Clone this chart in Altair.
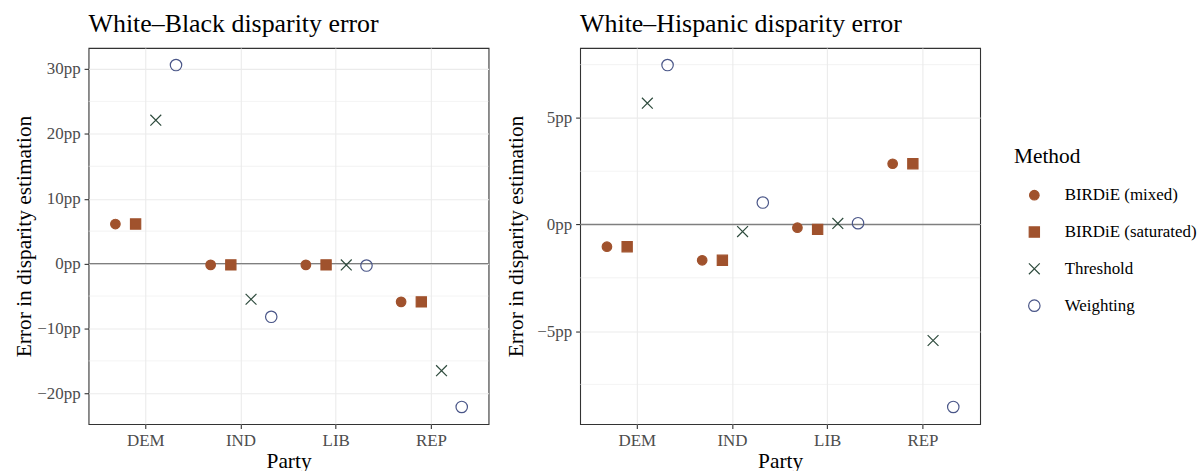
import altair as alt
import pandas as pd

parties = ["DEM", "IND", "LIB", "REP"]
methods = ["BIRDiE (mixed)", "BIRDiE (saturated)", "Threshold", "Weighting"]

# White-Black disparity error (pp)
wb_mixed = [6.1, -0.2, -0.2, -5.9]
wb_saturated = [6.1, -0.2, -0.2, -5.9]
wb_threshold = [22.1, -5.5, -0.2, -16.5]
wb_weighting = [30.6, -8.2, -0.3, -22.1]

# White-Hispanic disparity error (pp)
wh_mixed = [-1.04, -1.68, -0.15, 2.85]
wh_saturated = [-1.04, -1.68, -0.23, 2.85]
wh_threshold = [5.69, -0.33, 0.05, -5.44]
wh_weighting = [7.48, 1.03, 0.06, -8.56]

wb_ticks = [-20, -10, 0, 10, 20, 30]
wb_minor = [-15, -5, 5, 15, 25]
wh_ticks = [-5, 0, 5]
wh_minor = [-7.5, -2.5, 2.5, 7.5]

method_strokes = ["#A0522D", "#A0522D", "#2E4B3D", "#4A5688"]
method_fills = ["#A0522D", "#A0522D", "transparent", "transparent"]
method_shapes = ["circle", "square", "M-1,-1L1,1M-1,1L1,-1", "circle"]
method_sizes = [92, 132, 150, 87]

FONT = "Liberation Serif"
W, H = 402, 378


def long_df(series):
    rows = []
    for m, vals in zip(methods, series):
        for p, v in zip(parties, vals):
            rows.append({"Party": p, "Method": m, "Error": v})
    return pd.DataFrame(rows)


def panel(series, title, ticks, minor):
    df = long_df(series)
    lo, hi = df["Error"].min(), df["Error"].max()
    ex = 0.05 * (hi - lo)
    yscale = alt.Scale(domain=[lo - ex, hi + ex], nice=False, zero=False)
    yaxis = alt.Axis(values=ticks, labelExpr="format(datum.value, 'd') + 'pp'",
                     title="Error in disparity estimation", titleAngle=270,
                     titleX=-64, titleY=H / 2, titleAlign="center",
                     titleBaseline="middle")
    y = alt.Y("Error:Q", scale=yscale, axis=yaxis)

    minor_rules = alt.Chart(pd.DataFrame({"Error": minor})).mark_rule(
        color="#EBEBEB", strokeWidth=0.6).encode(y=y)
    zero_rule = alt.Chart(pd.DataFrame({"Error": [0]})).mark_rule(
        color="#7F7F7F", strokeWidth=1.4).encode(y=y)

    points = alt.Chart(df).mark_point(opacity=1, strokeWidth=1.2).encode(
        x=alt.X("Party:N",
                scale=alt.Scale(domain=parties, paddingInner=0, paddingOuter=0.1),
                axis=alt.Axis(bandPosition=0.5, labelAngle=0, grid=True,
                              title="Party")),
        xOffset=alt.XOffset("Method:N",
                            scale=alt.Scale(domain=methods, paddingInner=0,
                                            paddingOuter=0.857)),
        y=y,
        shape=alt.Shape("Method:N", scale=alt.Scale(domain=methods, range=method_shapes),
                        title="Method"),
        fill=alt.Fill("Method:N", scale=alt.Scale(domain=methods, range=method_fills),
                      title="Method"),
        stroke=alt.Stroke("Method:N", scale=alt.Scale(domain=methods, range=method_strokes),
                          title="Method"),
        size=alt.Size("Method:N", scale=alt.Scale(domain=methods, range=method_sizes),
                      title="Method"),
    )
    return alt.layer(minor_rules, zero_rule, points).properties(
        width=W, height=H,
        title=alt.TitleParams(title, anchor="start", frame="group", offset=11))


left = panel([wb_mixed, wb_saturated, wb_threshold, wb_weighting],
             "White–Black disparity error", wb_ticks, wb_minor)
right = panel([wh_mixed, wh_saturated, wh_threshold, wh_weighting],
              "White–Hispanic disparity error", wh_ticks, wh_minor)

chart = alt.hconcat(left, right, spacing=92, bounds="flush").resolve_scale(
    x="independent", y="independent", shape="shared", fill="shared",
    stroke="shared", size="shared"
).properties(
    padding={"left": 13, "top": 9, "right": 5, "bottom": 5}
).configure_view(
    stroke="#333333", strokeWidth=1.1
).configure_axis(
    labelFont=FONT, labelFontSize=17, labelColor="#4D4D4D",
    tickColor="#333333", tickSize=4.5, tickWidth=1.1, domain=False,
    gridColor="#EBEBEB", gridWidth=1.1, titleFont=FONT, titleFontSize=21.5,
    titleColor="#000000", titleFontWeight="normal", labelPadding=4,
    titlePadding=2
).configure_title(
    font=FONT, fontSize=26, fontWeight="normal", color="#000000"
).configure_legend(
    orient="none", legendX=930, legendY=99,
    titleFont=FONT, titleFontSize=21.5, titleFontWeight="normal", titleColor="#000000",
    labelFont=FONT, labelFontSize=17, labelColor="#000000",
    symbolOffset=12, labelOffset=22, rowPadding=19, titlePadding=19,
    symbolStrokeWidth=1.2, symbolOpacity=1
)

chart.save("out.html", embed_options={"renderer": "svg", "actions": False})
